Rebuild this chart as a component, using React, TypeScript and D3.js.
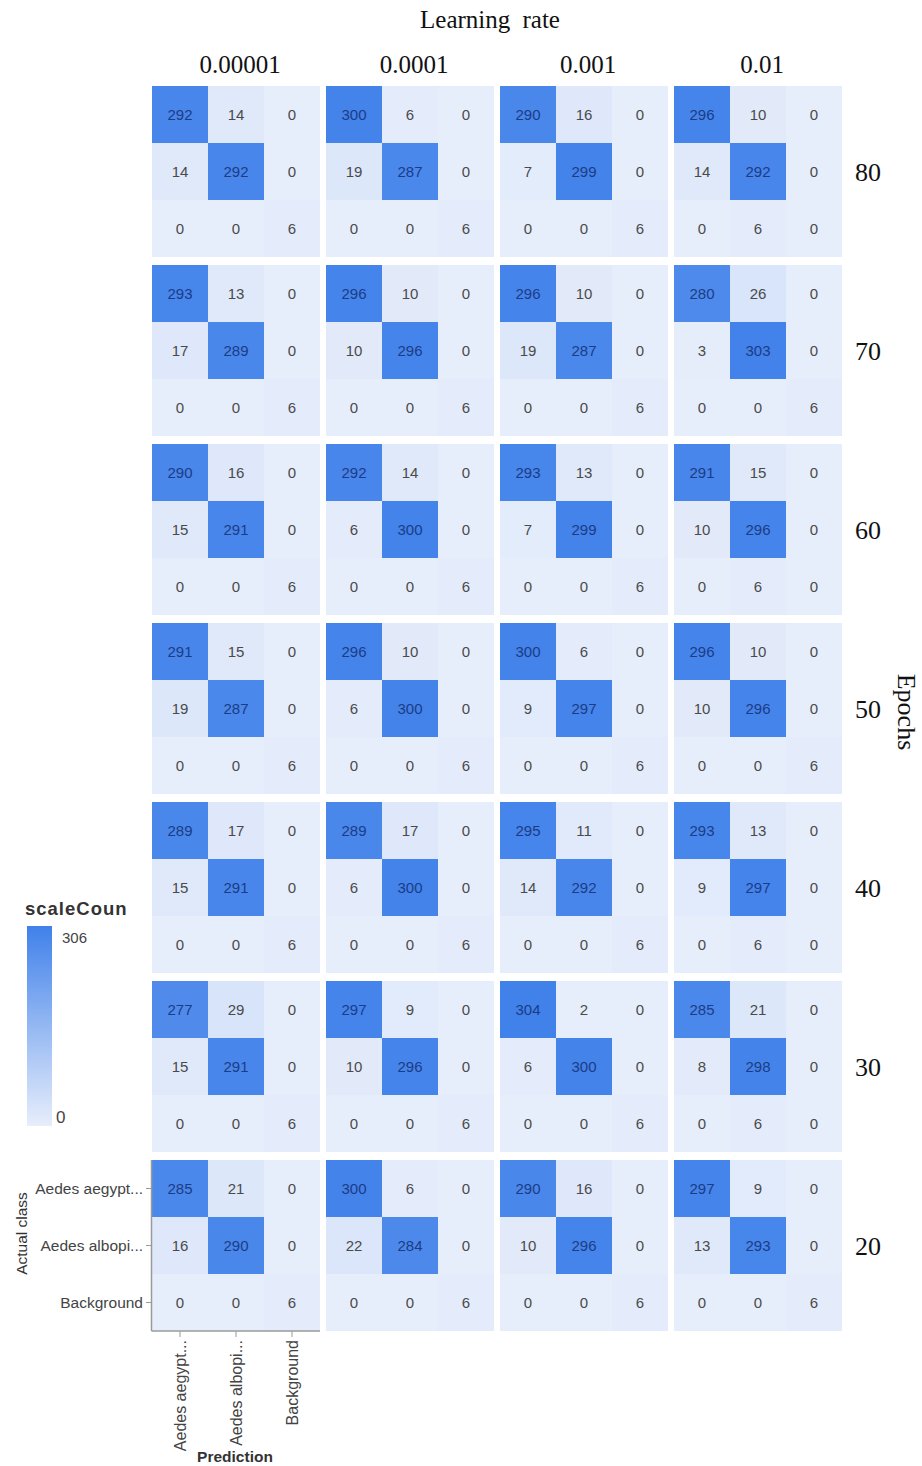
import React from "react";
import * as d3 from "d3";

const learningRates = ["0.00001", "0.0001", "0.001", "0.01"];
const epochs = ["80", "70", "60", "50", "40", "30", "20"];
const classLabels = ["Aedes aegypt...", "Aedes albopi...", "Background"];

// each epoch row: one 3x3 matrix per learning rate (rows = actual, cols = prediction)
const epoch80 = [
  [[292, 14, 0], [14, 292, 0], [0, 0, 6]],
  [[300, 6, 0], [19, 287, 0], [0, 0, 6]],
  [[290, 16, 0], [7, 299, 0], [0, 0, 6]],
  [[296, 10, 0], [14, 292, 0], [0, 6, 0]],
];
const epoch70 = [
  [[293, 13, 0], [17, 289, 0], [0, 0, 6]],
  [[296, 10, 0], [10, 296, 0], [0, 0, 6]],
  [[296, 10, 0], [19, 287, 0], [0, 0, 6]],
  [[280, 26, 0], [3, 303, 0], [0, 0, 6]],
];
const epoch60 = [
  [[290, 16, 0], [15, 291, 0], [0, 0, 6]],
  [[292, 14, 0], [6, 300, 0], [0, 0, 6]],
  [[293, 13, 0], [7, 299, 0], [0, 0, 6]],
  [[291, 15, 0], [10, 296, 0], [0, 6, 0]],
];
const epoch50 = [
  [[291, 15, 0], [19, 287, 0], [0, 0, 6]],
  [[296, 10, 0], [6, 300, 0], [0, 0, 6]],
  [[300, 6, 0], [9, 297, 0], [0, 0, 6]],
  [[296, 10, 0], [10, 296, 0], [0, 0, 6]],
];
const epoch40 = [
  [[289, 17, 0], [15, 291, 0], [0, 0, 6]],
  [[289, 17, 0], [6, 300, 0], [0, 0, 6]],
  [[295, 11, 0], [14, 292, 0], [0, 0, 6]],
  [[293, 13, 0], [9, 297, 0], [0, 6, 0]],
];
const epoch30 = [
  [[277, 29, 0], [15, 291, 0], [0, 0, 6]],
  [[297, 9, 0], [10, 296, 0], [0, 0, 6]],
  [[304, 2, 0], [6, 300, 0], [0, 0, 6]],
  [[285, 21, 0], [8, 298, 0], [0, 6, 0]],
];
const epoch20 = [
  [[285, 21, 0], [16, 290, 0], [0, 0, 6]],
  [[300, 6, 0], [22, 284, 0], [0, 0, 6]],
  [[290, 16, 0], [10, 296, 0], [0, 0, 6]],
  [[297, 9, 0], [13, 293, 0], [0, 0, 6]],
];
const matrices = [epoch80, epoch70, epoch60, epoch50, epoch40, epoch30, epoch20];
const scaleMin = 0;
const scaleMax = 306;

const W = 922;
const H = 1466;

export default function App() {
  const colX = d3
    .scaleBand<string>()
    .domain(learningRates)
    .range([152, 842])
    .paddingInner(6 / 174);
  const rowY = d3
    .scaleBand<string>()
    .domain(epochs)
    .range([86, 1331])
    .paddingInner(8 / 179);
  const pw = colX.bandwidth();
  const ph = rowY.bandwidth();
  const cx = d3.scaleBand<number>().domain([0, 1, 2]).range([0, pw]);
  const cy = d3.scaleBand<number>().domain([0, 1, 2]).range([0, ph]);
  const color = d3
    .scaleLinear<string>()
    .domain([scaleMin, scaleMax])
    .range(["#e7eefb", "#4081ea"])
    .interpolate(d3.interpolateRgb);

  const serif = "'Liberation Serif', 'Times New Roman', serif";
  const sans = "'Liberation Sans', Arial, sans-serif";

  const lastRow = epochs[epochs.length - 1];
  const firstCol = learningRates[0];
  const ax0 = colX(firstCol)!;
  const ay0 = rowY(lastRow)!;

  return (
    <svg width={W} height={H} style={{ display: "block", position: "absolute", left: 0, top: 0 }}>
      <defs>
        <linearGradient id="legendGrad" x1="0" y1="0" x2="0" y2="1">
          <stop offset="0%" stopColor={color(scaleMax)} />
          <stop offset="100%" stopColor={color(scaleMin)} />
        </linearGradient>
      </defs>
      <rect width={W} height={H} fill="#ffffff" />
      <text x={490} y={28} textAnchor="middle" fontFamily={serif} fontSize={25} fill="#111" wordSpacing={6}>
        Learning rate
      </text>
      {learningRates.map((lr) => (
        <text key={lr} x={colX(lr)! + pw / 2 + 4} y={73} textAnchor="middle" fontFamily={serif} fontSize={25} fill="#111">
          {lr}
        </text>
      ))}
      {epochs.map((ep) => (
        <text key={ep} x={868} y={rowY(ep)! + ph / 2 + 9} textAnchor="middle" fontFamily={serif} fontSize={26} fill="#111">
          {ep}
        </text>
      ))}
      <text
        transform={`translate(898, 712) rotate(90)`}
        textAnchor="middle"
        fontFamily={serif}
        fontSize={26}
        fill="#111"
      >
        Epochs
      </text>

      {matrices.map((row, ri) =>
        row.map((mat, ci) => {
          const px = colX(learningRates[ci])!;
          const py = rowY(epochs[ri])!;
          return (
            <g key={`${ri}-${ci}`} transform={`translate(${px},${py})`}>
              {mat.map((r, a) =>
                r.map((v, p) => (
                  <rect
                    key={`${a}-${p}`}
                    x={cx(p)!}
                    y={cy(a)!}
                    width={cx.bandwidth()}
                    height={cy.bandwidth()}
                    fill={color(v)}
                  />
                ))
              )}
              {mat.map((r, a) =>
                r.map((v, p) => (
                  <text
                    key={`t${a}-${p}`}
                    x={cx(p)! + cx.bandwidth() / 2}
                    y={cy(a)! + cy.bandwidth() / 2 + 5.5}
                    textAnchor="middle"
                    fontFamily={sans}
                    fontSize={15}
                    fill={v > scaleMax / 2 ? "#1c3c86" : "#4a4a4a"}
                  >
                    {v}
                  </text>
                ))
              )}
            </g>
          );
        })
      )}

      {/* axes for bottom-left panel */}
      <g>
        <line x1={ax0 - 0.5} y1={ay0} x2={ax0 - 0.5} y2={ay0 + ph} stroke="#9a9a9a" strokeWidth={1.5} />
        <line x1={ax0 - 0.5} y1={ay0 + ph} x2={ax0 + pw} y2={ay0 + ph} stroke="#9a9a9a" strokeWidth={1.5} />
        {classLabels.map((c, i) => (
          <g key={`yl${i}`}>
            <line x1={ax0 - 6} x2={ax0} y1={ay0 + cy(i)! + cy.bandwidth() / 2} y2={ay0 + cy(i)! + cy.bandwidth() / 2} stroke="#9a9a9a" />
            <text
              x={ax0 - 9}
              y={ay0 + cy(i)! + cy.bandwidth() / 2 + 5.5}
              textAnchor="end"
              fontFamily={sans}
              fontSize={15.5}
              fill="#444"
            >
              {c}
            </text>
          </g>
        ))}
        {classLabels.map((c, i) => (
          <g key={`xl${i}`}>
            <line x1={ax0 + cx(i)! + cx.bandwidth() / 2} x2={ax0 + cx(i)! + cx.bandwidth() / 2} y1={ay0 + ph} y2={ay0 + ph + 6} stroke="#9a9a9a" />
            <text
              transform={`translate(${ax0 + cx(i)! + cx.bandwidth() / 2 + 6}, ${ay0 + ph + 9}) rotate(-90)`}
              textAnchor="end"
              fontFamily={sans}
              fontSize={16}
              fill="#444"
            >
              {c}
            </text>
          </g>
        ))}
        <text transform={`translate(27, ${ay0 + ph / 2 - 12}) rotate(-90)`} textAnchor="middle" fontFamily={sans} fontSize={15.5} fill="#333">
          Actual class
        </text>
        <text x={ax0 + pw / 2 - 1} y={1462} textAnchor="middle" fontFamily={sans} fontSize={15.5} fontWeight="bold" fill="#333">
          Prediction
        </text>
      </g>

      {/* legend */}
      <g>
        <text x={25} y={915} fontFamily={sans} fontSize={18.5} fontWeight="bold" fill="#333" letterSpacing={1}>
          scaleCoun
        </text>
        <rect x={27} y={926} width={25} height={200} fill="url(#legendGrad)" />
        <text x={62} y={943} fontFamily={sans} fontSize={15} fill="#444">
          {scaleMax}
        </text>
        <text x={56} y={1123} fontFamily={sans} fontSize={17} fill="#444">
          {scaleMin}
        </text>
      </g>
    </svg>
  );
}
